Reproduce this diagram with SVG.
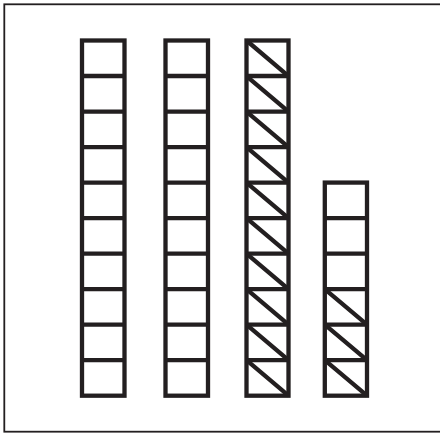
<svg xmlns="http://www.w3.org/2000/svg" width="440" height="433" viewBox="0 0 440 433">
  <style>
    .frame { fill: none; stroke: #231f20; stroke-width: 1.8; }
    .cell { fill: none; stroke: #231f20; stroke-width: 4.3; stroke-linejoin: miter; }
    .rung { fill: none; stroke: #231f20; stroke-width: 4.3; }
    .diag { fill: none; stroke: #231f20; stroke-width: 4.3; }
  </style>
  <rect width="440" height="433" fill="#ffffff"/>
  <rect class="frame" x="4.3" y="4.3" width="445" height="427.4"/>

  <g id="column-1">
    <rect class="cell" x="82" y="40.5" width="42.5" height="355.2"/>
    <path class="rung" d="M82 76.02H124.5M82 111.54H124.5M82 147.06H124.5M82 182.58H124.5M82 218.1H124.5M82 253.62H124.5M82 289.14H124.5M82 324.66H124.5M82 360.18H124.5"/>
  </g>

  <g id="column-2">
    <rect class="cell" x="165.5" y="40.5" width="42.5" height="355.2"/>
    <path class="rung" d="M165.5 76.02H208M165.5 111.54H208M165.5 147.06H208M165.5 182.58H208M165.5 218.1H208M165.5 253.62H208M165.5 289.14H208M165.5 324.66H208M165.5 360.18H208"/>
  </g>

  <g id="column-3">
    <rect class="cell" x="246.5" y="40.5" width="42" height="355.2"/>
    <path class="rung" d="M246.5 76.02H288.5M246.5 111.54H288.5M246.5 147.06H288.5M246.5 182.58H288.5M246.5 218.1H288.5M246.5 253.62H288.5M246.5 289.14H288.5M246.5 324.66H288.5M246.5 360.18H288.5"/>
    <path class="diag" d="M246.5 40.5L288.5 76.02M246.5 76.02L288.5 111.54M246.5 111.54L288.5 147.06M246.5 147.06L288.5 182.58M246.5 182.58L288.5 218.1M246.5 218.1L288.5 253.62M246.5 253.62L288.5 289.14M246.5 289.14L288.5 324.66M246.5 324.66L288.5 360.18M246.5 360.18L288.5 395.7"/>
  </g>

  <g id="column-4">
    <rect class="cell" x="324.8" y="182.58" width="42.2" height="213.12"/>
    <path class="rung" d="M324.8 218.1H367M324.8 253.62H367M324.8 289.14H367M324.8 324.66H367M324.8 360.18H367"/>
    <path class="diag" d="M324.8 289.14L367 324.66M324.8 324.66L367 360.18M324.8 360.18L367 395.7"/>
  </g>

  <g id="connectors"/>
</svg>
